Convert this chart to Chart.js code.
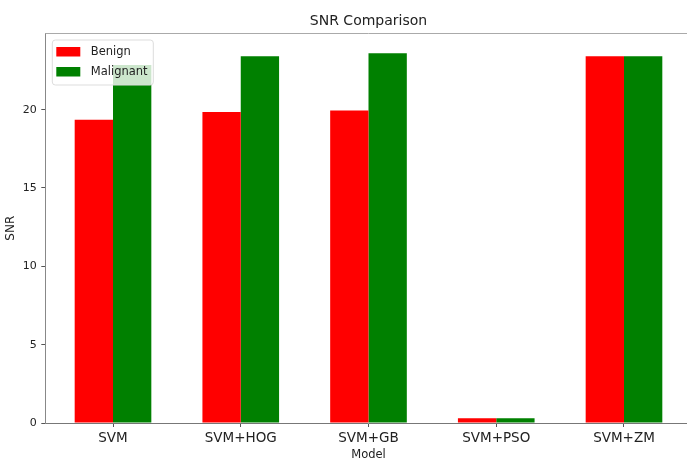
<!DOCTYPE html>
<html lang="en">
<head>
    <meta charset="UTF-8">
    <title>SNR Comparison</title>
    <script src="https://cdn.jsdelivr.net/npm/chart.js"></script>
    <style>
        body {
            margin: 0;
            padding: 0;
            background: #fff;
            overflow: hidden;
        }
    </style>
</head>
<body>
    <canvas id="snrChart" width="700" height="462"></canvas>

    <script>
        // values
        var models = ['SVM', 'SVM+HOG', 'SVM+GB', 'SVM+PSO', 'SVM+ZM'];
        var benign = [19.35, 19.85, 19.95, 0.3, 23.4];
        var malignant = [22.85, 23.4, 23.6, 0.3, 23.4];
        var yTicks = [0, 5, 10, 15, 20];

        var font = "'DejaVu Sans', sans-serif";
        var textColor = '#222';

        // matplotlib-like legend box drawn inside the plot, over the bars
        var boxLegend = {
            id: 'boxLegend',
            afterDraw: function(chart) {
                var ctx = chart.ctx;
                var a = chart.chartArea;
                // top spine
                ctx.save();
                ctx.strokeStyle = '#aaa';
                ctx.lineWidth = 1;
                ctx.beginPath();
                ctx.moveTo(a.left, a.top);
                ctx.lineTo(a.right, a.top);
                ctx.stroke();

                var x = a.left + 7, y = a.top + 6.5, w = 101, h = 45;
                ctx.fillStyle = 'rgba(255,255,255,0.8)';
                ctx.strokeStyle = '#ddd';
                ctx.beginPath();
                ctx.roundRect(x, y, w, h, 3);
                ctx.fill();
                ctx.stroke();

                chart.data.datasets.forEach(function(ds, i) {
                    var ry = y + 7 + i * 20;
                    ctx.fillStyle = ds.backgroundColor;
                    ctx.fillRect(x + 4, ry, 24, 9.5);
                    ctx.fillStyle = textColor;
                    ctx.font = '11.5px ' + font;
                    ctx.textBaseline = 'middle';
                    ctx.fillText(ds.label, x + 38.5, ry + 5);
                });
                ctx.restore();
            }
        };

        var ctx = document.getElementById('snrChart').getContext('2d');
        var snrChart = new Chart(ctx, {
            type: 'bar',
            data: {
                datasets: [{
                    label: 'Benign',
                    data: benign.map(function(v, i) { return {x: i, y: v}; }),
                    backgroundColor: '#ff0000',
                    borderWidth: 0
                }, {
                    label: 'Malignant',
                    data: malignant.map(function(v, i) { return {x: i, y: v}; }),
                    backgroundColor: '#008000',
                    borderWidth: 0
                }]
            },
            options: {
                responsive: false,
                animation: false,
                categoryPercentage: 0.6,
                barPercentage: 1.0,
                layout: {
                    padding: { left: 0, right: 8.3, top: 0, bottom: 0 }
                },
                plugins: {
                    legend: { display: false },
                    tooltip: { enabled: false },
                    title: {
                        display: true,
                        text: 'SNR Comparison',
                        fullSize: false,
                        color: textColor,
                        font: { family: font, size: 14, weight: 'normal' },
                        padding: { top: 12.6, bottom: 4.1 }
                    }
                },
                scales: {
                    x: {
                        type: 'linear',
                        min: -0.53,
                        max: 4.53,
                        offset: false,
                        afterBuildTicks: function(scale) {
                            scale.ticks = models.map(function(m, i) { return {value: i}; });
                        },
                        afterFit: function(scale) { scale.height = 39; },
                        ticks: {
                            autoSkip: false,
                            maxRotation: 0,
                            padding: 3,
                            color: textColor,
                            font: { family: font, size: 13.5 },
                            callback: function(value) { return models[value]; }
                        },
                        grid: {
                            display: true,
                            offset: false,
                            drawOnChartArea: false,
                            tickLength: 4,
                            color: '#555'
                        },
                        border: { display: true, color: '#777' },
                        title: {
                            display: true,
                            text: 'Model',
                            color: textColor,
                            font: { family: font, size: 11.5 },
                            padding: { top: 0, bottom: 0 }
                        }
                    },
                    y: {
                        min: 0,
                        max: 24.86,
                        afterBuildTicks: function(scale) {
                            scale.ticks = yTicks.map(function(v) { return {value: v}; });
                        },
                        afterFit: function(scale) { scale.width = 45.3; },
                        ticks: {
                            padding: 4.6,
                            color: textColor,
                            font: { family: font, size: 11 }
                        },
                        grid: {
                            display: true,
                            drawOnChartArea: false,
                            tickLength: 4,
                            color: '#555'
                        },
                        border: { display: true, color: '#888' },
                        title: {
                            display: true,
                            text: 'SNR',
                            color: textColor,
                            font: { family: font, size: 12 },
                            padding: { top: 4, bottom: 0 }
                        }
                    }
                }
            },
            plugins: [boxLegend]
        });
    </script>
</body>
</html>
